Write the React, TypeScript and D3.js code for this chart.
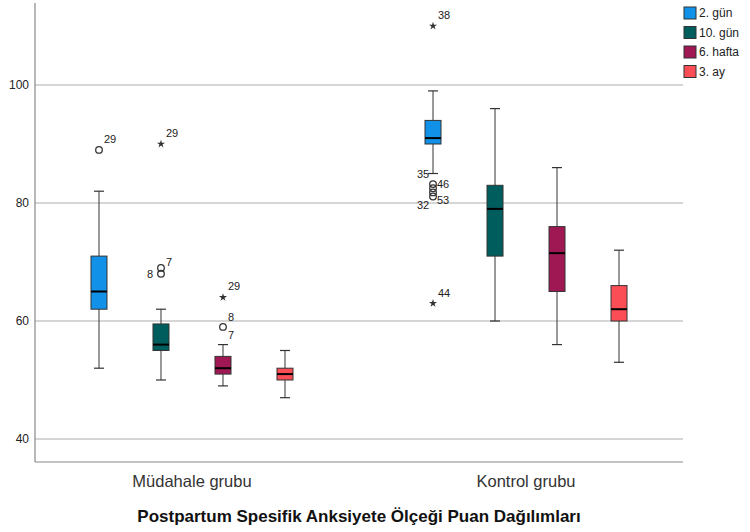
import * as d3 from 'd3';

const groups = ['Müdahale grubu', 'Kontrol grubu'];
const series = ['2. gün', '10. gün', '6. hafta', '3. ay'];
const colors = ['#1192e8', '#005d5d', '#9f1853', '#fa4d56'];
const yTicks = [40, 60, 80, 100];

// [whiskerLow, q1, median, q3, whiskerHigh] per group, per series
const muStats = [
  [52, 62, 65, 71, 82],
  [50, 55, 56, 59.5, 62],
  [49, 51, 52, 54, 56],
  [47, 50, 51, 52, 55],
];
const koStats = [
  [85, 90, 91, 94, 99],
  [60, 71, 79, 83, 96],
  [56, 65, 71.5, 76, 86],
  [53, 60, 62, 66, 72],
];

// outliers: group, series, value, kind, labels [text, dx, dy]
const outliers: Array<{ g: number; s: number; v: number; kind: 'o' | '*'; labels: Array<[string, number, number]> }> = [
  { g: 0, s: 0, v: 89, kind: 'o', labels: [['29', 5, -7]] },
  { g: 0, s: 1, v: 90, kind: '*', labels: [['29', 5, -7]] },
  { g: 0, s: 1, v: 69, kind: 'o', labels: [['7', 5, -2]] },
  { g: 0, s: 1, v: 68, kind: 'o', labels: [['8', -14, 4]] },
  { g: 0, s: 2, v: 64, kind: '*', labels: [['29', 5, -7]] },
  { g: 0, s: 2, v: 59, kind: 'o', labels: [['8', 5, -6], ['7', 5, 12]] },
  { g: 1, s: 0, v: 110, kind: '*', labels: [['38', 5, -7]] },
  { g: 1, s: 0, v: 83.2, kind: 'o', labels: [['35', -16, -6]] },
  { g: 1, s: 0, v: 82.5, kind: 'o', labels: [['46', 4, 0]] },
  { g: 1, s: 0, v: 81.8, kind: 'o', labels: [] },
  { g: 1, s: 0, v: 81.1, kind: 'o', labels: [['53', 4, 7], ['32', -16, 12]] },
  { g: 1, s: 0, v: 63, kind: '*', labels: [['44', 5, -6]] },
];

export default function App() {
  const width = 750;
  const height = 532;
  const left = 35;
  const right = 683;
  const top = 3;
  const bottom = 462;
  const font = '"Liberation Sans", Arial, sans-serif';

  const y = d3.scaleLinear().domain([36.1, 113.9]).range([bottom, top]);
  const x = d3.scalePoint<string>().domain(groups).range([left, right]).padding(0.47);
  const xs = d3.scaleBand<string>().domain(series).range([-124, 124]);
  const boxW = 16;
  const cap = 5;
  const star = d3.symbol(d3.symbolStar, 20)()!;

  const stats = [muStats, koStats];
  const cx = (g: number, s: number) => x(groups[g])! + xs(series[s])! + xs.bandwidth() / 2;

  return (
    <svg width={width} height={height} style={{ position: 'absolute', left: 0, top: 0, background: '#fff' }}>
      {/* gridlines */}
      {yTicks.map(t => (
        <g key={t}>
          <line x1={left} x2={right} y1={y(t)} y2={y(t)} stroke="#d6d6d6" strokeWidth={2} />
          <text x={29} y={y(t)} textAnchor="end" dominantBaseline="central" fontSize={12} fontFamily={font} fill="#222">
            {t}
          </text>
        </g>
      ))}
      {/* axes */}
      <line x1={left} x2={left} y1={top} y2={bottom} stroke="#888" strokeWidth={1.2} />
      <line x1={left} x2={right} y1={bottom} y2={bottom} stroke="#888" strokeWidth={1.2} />

      {/* boxes */}
      {stats.map((gs, g) =>
        gs.map((st, s) => {
          const c = cx(g, s);
          const [lo, q1, med, q3, hi] = st;
          return (
            <g key={`${g}-${s}`}>
              <line x1={c} x2={c} y1={y(hi)} y2={y(lo)} stroke="#555" strokeWidth={1.2} />
              <line x1={c - cap} x2={c + cap} y1={y(hi)} y2={y(hi)} stroke="#333" strokeWidth={1.2} />
              <line x1={c - cap} x2={c + cap} y1={y(lo)} y2={y(lo)} stroke="#333" strokeWidth={1.2} />
              <rect x={c - boxW / 2} y={y(q3)} width={boxW} height={y(q1) - y(q3)} fill={colors[s]} stroke="#333" strokeWidth={1} />
              <line x1={c - boxW / 2} x2={c + boxW / 2} y1={y(med)} y2={y(med)} stroke="#000" strokeWidth={2} />
            </g>
          );
        })
      )}

      {/* outliers */}
      {outliers.map((o, i) => {
        const c = cx(o.g, o.s);
        const yy = y(o.v);
        return (
          <g key={i} fontFamily={font} fontSize={11}>
            {o.kind === 'o' ? (
              <circle cx={c} cy={yy} r={3.3} fill="none" stroke="#333" strokeWidth={1.3} />
            ) : (
              <path d={star} transform={`translate(${c},${yy})`} fill="#333" />
            )}
            {o.labels.map(([t, dx, dy], j) => (
              <text key={j} x={c + dx} y={yy + dy} fill="#222">{t}</text>
            ))}
          </g>
        );
      })}

      {/* x labels */}
      {groups.map(gname => (
        <text key={gname} x={x(gname)} y={487} textAnchor="middle" fontSize={16.5} fontFamily={font} fill="#333">
          {gname}
        </text>
      ))}
      <text x={359} y={522} textAnchor="middle" fontSize={17} fontWeight="bold" fontFamily={font} fill="#111">
        Postpartum Spesifik Anksiyete Ölçeği Puan Dağılımları
      </text>

      {/* legend */}
      {series.map((s, i) => (
        <g key={s} transform={`translate(684,${7 + i * 19.5})`}>
          <rect x={0} y={0} width={12} height={12} fill={colors[i]} stroke="#333" strokeWidth={1} />
          <text x={15} y={6} dominantBaseline="central" fontSize={12} fontFamily={font} fill="#222">
            {s}
          </text>
        </g>
      ))}
    </svg>
  );
}
